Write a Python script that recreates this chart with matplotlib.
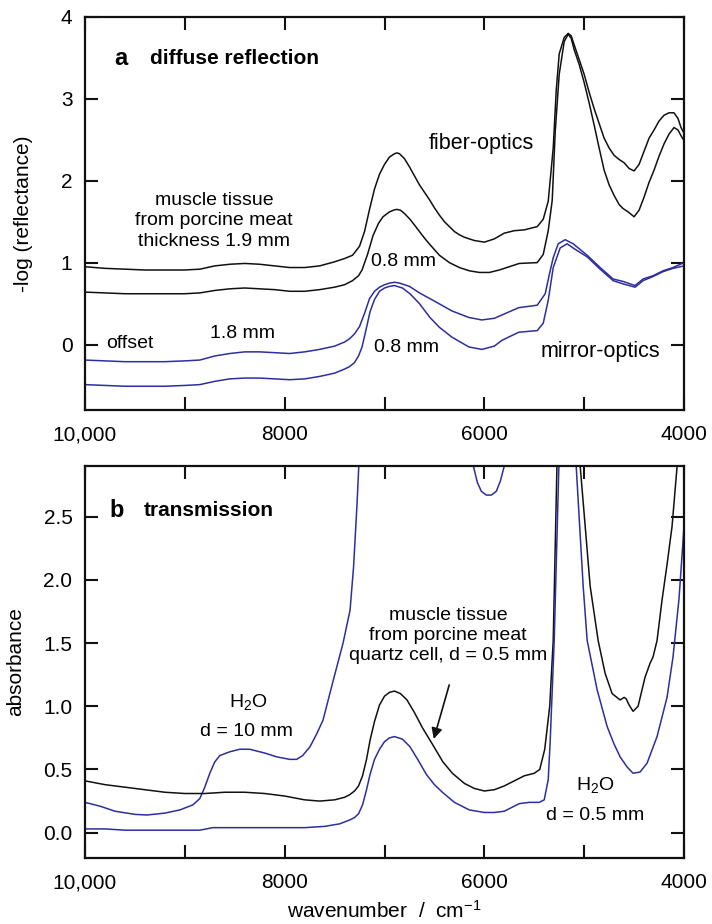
import matplotlib
matplotlib.use("Agg")
import matplotlib.pyplot as plt
from matplotlib.ticker import FixedLocator, FuncFormatter

plt.rcParams['font.family'] = ['Liberation Sans', 'DejaVu Sans']
plt.rcParams['mathtext.fontset'] = 'custom'
plt.rcParams['mathtext.rm'] = 'Liberation Sans'
plt.rcParams['mathtext.it'] = 'Liberation Sans:italic'

BLACK = '#111111'
BLUE = '#2e2e9e'

# ---- panel a: diffuse reflection ----
# fiber-optics, 1.9 mm
wn_a1 = [10000, 9800, 9600, 9400, 9200, 9000, 8850, 8700, 8550, 8400, 8250, 8100, 7950, 7800,
         7650, 7500, 7400, 7320, 7250, 7200, 7150, 7100, 7050, 7000, 6950, 6900, 6875, 6850,
         6800, 6750, 6700, 6650, 6600, 6545, 6500, 6450, 6400, 6350, 6300, 6250, 6200, 6100,
         6000, 5900, 5800, 5700, 5600, 5470, 5410, 5360, 5310, 5280, 5250, 5200, 5160, 5130,
         5100, 5050, 5000, 4950, 4900, 4850, 4800, 4750, 4700, 4650, 4600, 4550, 4500, 4450,
         4400, 4350, 4300, 4250, 4200, 4150, 4100, 4060, 4030, 4000]
a1 = [0.95, 0.93, 0.92, 0.91, 0.91, 0.91, 0.92, 0.96, 0.98, 0.99, 0.98, 0.96, 0.94, 0.94,
      0.96, 1.01, 1.05, 1.09, 1.20, 1.38, 1.65, 1.90, 2.08, 2.20, 2.29, 2.33, 2.34, 2.33,
      2.27, 2.17, 2.06, 1.95, 1.86, 1.76, 1.67, 1.58, 1.50, 1.44, 1.38, 1.34, 1.31, 1.27,
      1.25, 1.29, 1.36, 1.39, 1.40, 1.44, 1.53, 1.75, 2.40, 3.10, 3.55, 3.75, 3.80, 3.77,
      3.66, 3.48, 3.30, 3.08, 2.88, 2.70, 2.52, 2.40, 2.31, 2.26, 2.22, 2.15, 2.12, 2.20,
      2.36, 2.52, 2.62, 2.73, 2.80, 2.83, 2.83, 2.76, 2.65, 2.58]

# fiber-optics, 0.8 mm
wn_a2 = [10000, 9800, 9600, 9400, 9200, 9000, 8850, 8700, 8550, 8400, 8250, 8100, 7950, 7800,
         7650, 7500, 7400, 7320, 7260, 7225, 7170, 7115, 7060, 7015, 6950, 6900, 6875, 6840,
         6800, 6745, 6700, 6650, 6600, 6545, 6450, 6350, 6250, 6150, 6050, 5950, 5850, 5750,
         5650, 5470, 5410, 5360, 5320, 5290, 5250, 5200, 5160, 5130, 5100, 5050, 5000, 4950,
         4900, 4850, 4800, 4750, 4700, 4650, 4610, 4560, 4500, 4450, 4400, 4350, 4300, 4250,
         4200, 4150, 4100, 4060, 4030, 4000]
a2 = [0.64, 0.63, 0.62, 0.62, 0.62, 0.62, 0.63, 0.66, 0.68, 0.69, 0.68, 0.67, 0.65, 0.65,
      0.67, 0.70, 0.73, 0.78, 0.84, 0.91, 1.10, 1.33, 1.48, 1.56, 1.62, 1.645, 1.65, 1.64,
      1.60, 1.53, 1.46, 1.38, 1.30, 1.22, 1.09, 1.00, 0.94, 0.90, 0.88, 0.88, 0.91, 0.95,
      0.99, 1.00, 1.10, 1.39, 1.76, 2.60, 3.30, 3.70, 3.79, 3.74, 3.60, 3.42, 3.20, 2.95,
      2.68, 2.40, 2.13, 1.95, 1.82, 1.71, 1.66, 1.62, 1.56, 1.64, 1.80, 1.98, 2.13, 2.30,
      2.45, 2.57, 2.65, 2.62, 2.55, 2.49]

# mirror-optics, 1.8 mm (offset)
wn_a3 = [10000, 9800, 9600, 9400, 9200, 9000, 8850, 8700, 8550, 8400, 8250, 8100, 7950, 7800,
         7650, 7500, 7400, 7350, 7300, 7250, 7200, 7150, 7100, 7050, 7000, 6950, 6900, 6850,
         6750, 6650, 6500, 6325, 6155, 6025, 5900, 5825, 5655, 5470, 5390, 5350, 5310, 5260,
         5190, 5110, 4970, 4840, 4710, 4610, 4490, 4410, 4310, 4210, 4110, 4000]
a3 = [-0.19, -0.20, -0.21, -0.21, -0.21, -0.20, -0.19, -0.14, -0.11, -0.09, -0.09, -0.10,
      -0.11, -0.09, -0.06, -0.02, 0.03, 0.07, 0.13, 0.22, 0.38, 0.56, 0.65, 0.70, 0.73,
      0.75, 0.76, 0.75, 0.71, 0.63, 0.53, 0.41, 0.33, 0.30, 0.32, 0.36, 0.45, 0.48, 0.62,
      0.85, 1.06, 1.23, 1.28, 1.23, 1.09, 0.94, 0.80, 0.77, 0.72, 0.80, 0.84, 0.90, 0.94, 1.00]

# mirror-optics, 0.8 mm (offset)
wn_a4 = [10000, 9800, 9600, 9400, 9200, 9000, 8850, 8700, 8550, 8400, 8250, 8100, 7950, 7800,
         7650, 7500, 7400, 7350, 7300, 7260, 7225, 7185, 7145, 7100, 7050, 7000, 6950, 6900,
         6820, 6745, 6650, 6545, 6450, 6325, 6155, 6025, 5900, 5825, 5655, 5470, 5410, 5360,
         5310, 5240, 5170, 5100, 4970, 4840, 4710, 4610, 4490, 4410, 4310, 4210, 4110, 4000]
a4 = [-0.49, -0.50, -0.51, -0.51, -0.51, -0.50, -0.49, -0.45, -0.42, -0.41, -0.41, -0.42,
      -0.43, -0.42, -0.39, -0.35, -0.30, -0.27, -0.22, -0.14, -0.03, 0.18, 0.40, 0.55, 0.65,
      0.69, 0.71, 0.72, 0.69, 0.62, 0.50, 0.33, 0.21, 0.09, -0.03, -0.06, -0.02, 0.05, 0.15,
      0.17, 0.26, 0.54, 0.94, 1.18, 1.23, 1.17, 1.07, 0.92, 0.78, 0.74, 0.70, 0.78, 0.83,
      0.89, 0.93, 0.96]

# ---- panel b: transmission ----
# muscle tissue, quartz cell d = 0.5 mm
wn_b1 = [10000, 9800, 9600, 9400, 9200, 9000, 8800, 8600, 8400, 8200, 8000, 7800, 7650, 7500,
         7400, 7350, 7300, 7260, 7220, 7180, 7145, 7100, 7050, 7000, 6950, 6900, 6840, 6775,
         6700, 6620, 6520, 6415, 6320, 6200, 6100, 6000, 5900, 5800, 5700, 5600, 5500, 5445,
         5395, 5345, 5310, 5270, 5200, 5100, 5040, 4940, 4860, 4790, 4720, 4640, 4600, 4580,
         4550, 4510, 4460, 4390, 4340, 4310, 4270, 4220, 4170, 4120, 4070, 4030]
b1 = [0.41, 0.38, 0.36, 0.34, 0.32, 0.31, 0.31, 0.32, 0.32, 0.31, 0.29, 0.26, 0.25, 0.26,
      0.28, 0.30, 0.33, 0.37, 0.45, 0.58, 0.73, 0.88, 1.01, 1.08, 1.11, 1.12, 1.10, 1.05,
      0.95, 0.83, 0.70, 0.56, 0.47, 0.39, 0.35, 0.33, 0.34, 0.37, 0.41, 0.45, 0.47, 0.50,
      0.66, 1.00, 1.52, 3.00, 4.00, 4.00, 2.90, 1.95, 1.52, 1.26, 1.10, 1.05, 1.07, 1.06,
      1.01, 0.96, 1.00, 1.23, 1.34, 1.39, 1.52, 1.84, 2.12, 2.42, 2.89, 3.30]

# water, d = 0.5 mm
wn_b2 = [10000, 9800, 9600, 9400, 9200, 9000, 8850, 8720, 8600, 8400, 8200, 8000, 7800, 7600,
         7450, 7350, 7300, 7260, 7220, 7180, 7145, 7100, 7050, 7000, 6950, 6900, 6820, 6745,
         6660, 6580, 6500, 6420, 6300, 6150, 6000, 5900, 5800, 5750, 5650, 5550, 5450, 5400,
         5360, 5340, 5300, 5250, 5200, 5120, 5080, 5010, 4970, 4870, 4770, 4700, 4640, 4570,
         4510, 4440, 4370, 4270, 4170, 4110, 4050, 4000]
b2 = [0.03, 0.03, 0.02, 0.02, 0.02, 0.02, 0.02, 0.04, 0.04, 0.04, 0.04, 0.04, 0.04, 0.05,
      0.07, 0.10, 0.12, 0.15, 0.22, 0.34, 0.46, 0.58, 0.66, 0.72, 0.75, 0.76, 0.74, 0.68,
      0.57, 0.46, 0.38, 0.32, 0.24, 0.18, 0.16, 0.16, 0.17, 0.19, 0.23, 0.24, 0.24, 0.26,
      0.42, 0.73, 1.52, 3.00, 4.00, 4.00, 2.90, 1.95, 1.52, 1.13, 0.84, 0.70, 0.60, 0.52,
      0.47, 0.48, 0.55, 0.76, 1.07, 1.39, 1.85, 2.42]

# water, d = 10 mm
wn_b3 = [10000, 9850, 9700, 9500, 9380, 9200, 9050, 8920, 8850, 8800, 8750, 8700, 8650, 8550,
         8450, 8350, 8200, 8080, 7950, 7880, 7820, 7746, 7680, 7616, 7515, 7415, 7345, 7310,
         7275, 7240, 7150, 6500, 6200, 6150, 6110, 6070, 6030, 5980, 5930, 5880, 5840, 5800,
         5750, 5700, 5500, 4000]
b3 = [0.24, 0.21, 0.17, 0.145, 0.14, 0.155, 0.18, 0.22, 0.27, 0.36, 0.47, 0.56, 0.61, 0.64,
      0.66, 0.66, 0.63, 0.60, 0.58, 0.58, 0.61, 0.68, 0.78, 0.89, 1.20, 1.50, 1.76, 2.10,
      2.60, 3.20, 4.00, 4.50, 3.60, 3.10, 2.90, 2.77, 2.70, 2.67, 2.67, 2.70, 2.78, 2.90,
      3.10, 3.50, 4.50, 4.50]

x_ticks = [10000, 9000, 8000, 7000, 6000, 5000, 4000]
x_labels = {10000: '10,000', 8000: '8000', 6000: '6000', 4000: '4000'}

fig = plt.figure(figsize=(7.12, 9.24), dpi=100)
ax_a = fig.add_axes([85 / 712, 1 - 410 / 924, 599 / 712, 393 / 924])
ax_b = fig.add_axes([85 / 712, 1 - 858 / 924, 599 / 712, 392 / 924])


def style(ax):
    ax.set_xlim(10000, 4000)
    ax.xaxis.set_major_locator(FixedLocator(x_ticks))
    ax.xaxis.set_major_formatter(FuncFormatter(lambda v, p: x_labels.get(int(round(v)), '')))
    ax.tick_params(direction='in', which='both', top=True, right=True, length=9.5,
                   width=1.5, labelsize=15, color='#111111')
    ax.tick_params(axis='x', pad=11)
    ax.tick_params(axis='y', pad=9)
    for s in ax.spines.values():
        s.set_linewidth(1.6)
        s.set_color('#111111')


lw = 1.1
ax_a.plot(wn_a1, a1, color=BLACK, lw=lw)
ax_a.plot(wn_a2, a2, color=BLACK, lw=lw)
ax_a.plot(wn_a3, a3, color=BLUE, lw=lw)
ax_a.plot(wn_a4, a4, color=BLUE, lw=lw)
style(ax_a)
ax_a.set_ylim(-0.8, 4)
ax_a.set_yticks([0, 1, 2, 3, 4])
ax_a.set_ylabel('-log (reflectance)', fontsize=15)
ax_a.yaxis.set_label_coords(-0.087, 0.5)

ax_a.text(9710, 3.49, 'a', fontsize=17, fontweight='bold', ha='left', va='center')
ax_a.text(9349, 3.49, 'diffuse reflection', fontsize=15, fontweight='bold', ha='left', va='center')
ax_a.text(8708, 1.51, 'muscle tissue\nfrom porcine meat\nthickness 1.9 mm', fontsize=14,
          ha='center', va='center', linespacing=1.25)
ax_a.text(6033, 2.45, 'fiber-optics', fontsize=15.5, ha='center', va='center')
ax_a.text(6805, 1.01, '0.8 mm', fontsize=14, ha='center', va='center')
ax_a.text(8427, 0.13, '1.8 mm', fontsize=14, ha='center', va='center')
ax_a.text(9549, 0.01, 'offset', fontsize=14, ha='center', va='center')
ax_a.text(6775, -0.04, '0.8 mm', fontsize=14, ha='center', va='center')
ax_a.text(4841, -0.09, 'mirror-optics', fontsize=15.5, ha='center', va='center')

ax_b.plot(wn_b3, b3, color=BLUE, lw=lw)
ax_b.plot(wn_b1, b1, color=BLACK, lw=lw)
ax_b.plot(wn_b2, b2, color=BLUE, lw=lw)
style(ax_b)
ax_b.set_ylim(-0.2, 2.9)
ax_b.set_yticks([0.0, 0.5, 1.0, 1.5, 2.0, 2.5])
ax_b.yaxis.set_major_formatter(FuncFormatter(lambda v, p: f'{v:.1f}'))
ax_b.set_ylabel('absorbance', fontsize=15)
ax_b.yaxis.set_label_coords(-0.100, 0.5)
ax_b.set_xlabel(r'wavenumber  /  cm$^{-1}$', fontsize=15)
ax_b.xaxis.set_label_coords(0.5, -0.106)

ax_b.text(9750, 2.55, 'b', fontsize=17, fontweight='bold', ha='left', va='center')
ax_b.text(9409, 2.55, 'transmission', fontsize=15, fontweight='bold', ha='left', va='center')
ax_b.text(8367, 1.03, r'H$_2$O', fontsize=14, ha='center', va='center')
ax_b.text(8387, 0.80, 'd = 10 mm', fontsize=14, ha='center', va='center')
ax_b.text(6364, 1.56, 'muscle tissue\nfrom porcine meat\nquartz cell, d = 0.5 mm', fontsize=14,
          ha='center', va='center', linespacing=1.25)
ax_b.annotate('', xy=(6514, 0.72), xytext=(6344, 1.19),
              arrowprops=dict(arrowstyle='-|>', lw=1.2, color=BLACK, mutation_scale=16))
ax_b.text(4891, 0.38, r'H$_2$O', fontsize=14, ha='center', va='center')
ax_b.text(4891, 0.14, 'd = 0.5 mm', fontsize=14, ha='center', va='center')

fig.savefig('out.png', dpi=100)
